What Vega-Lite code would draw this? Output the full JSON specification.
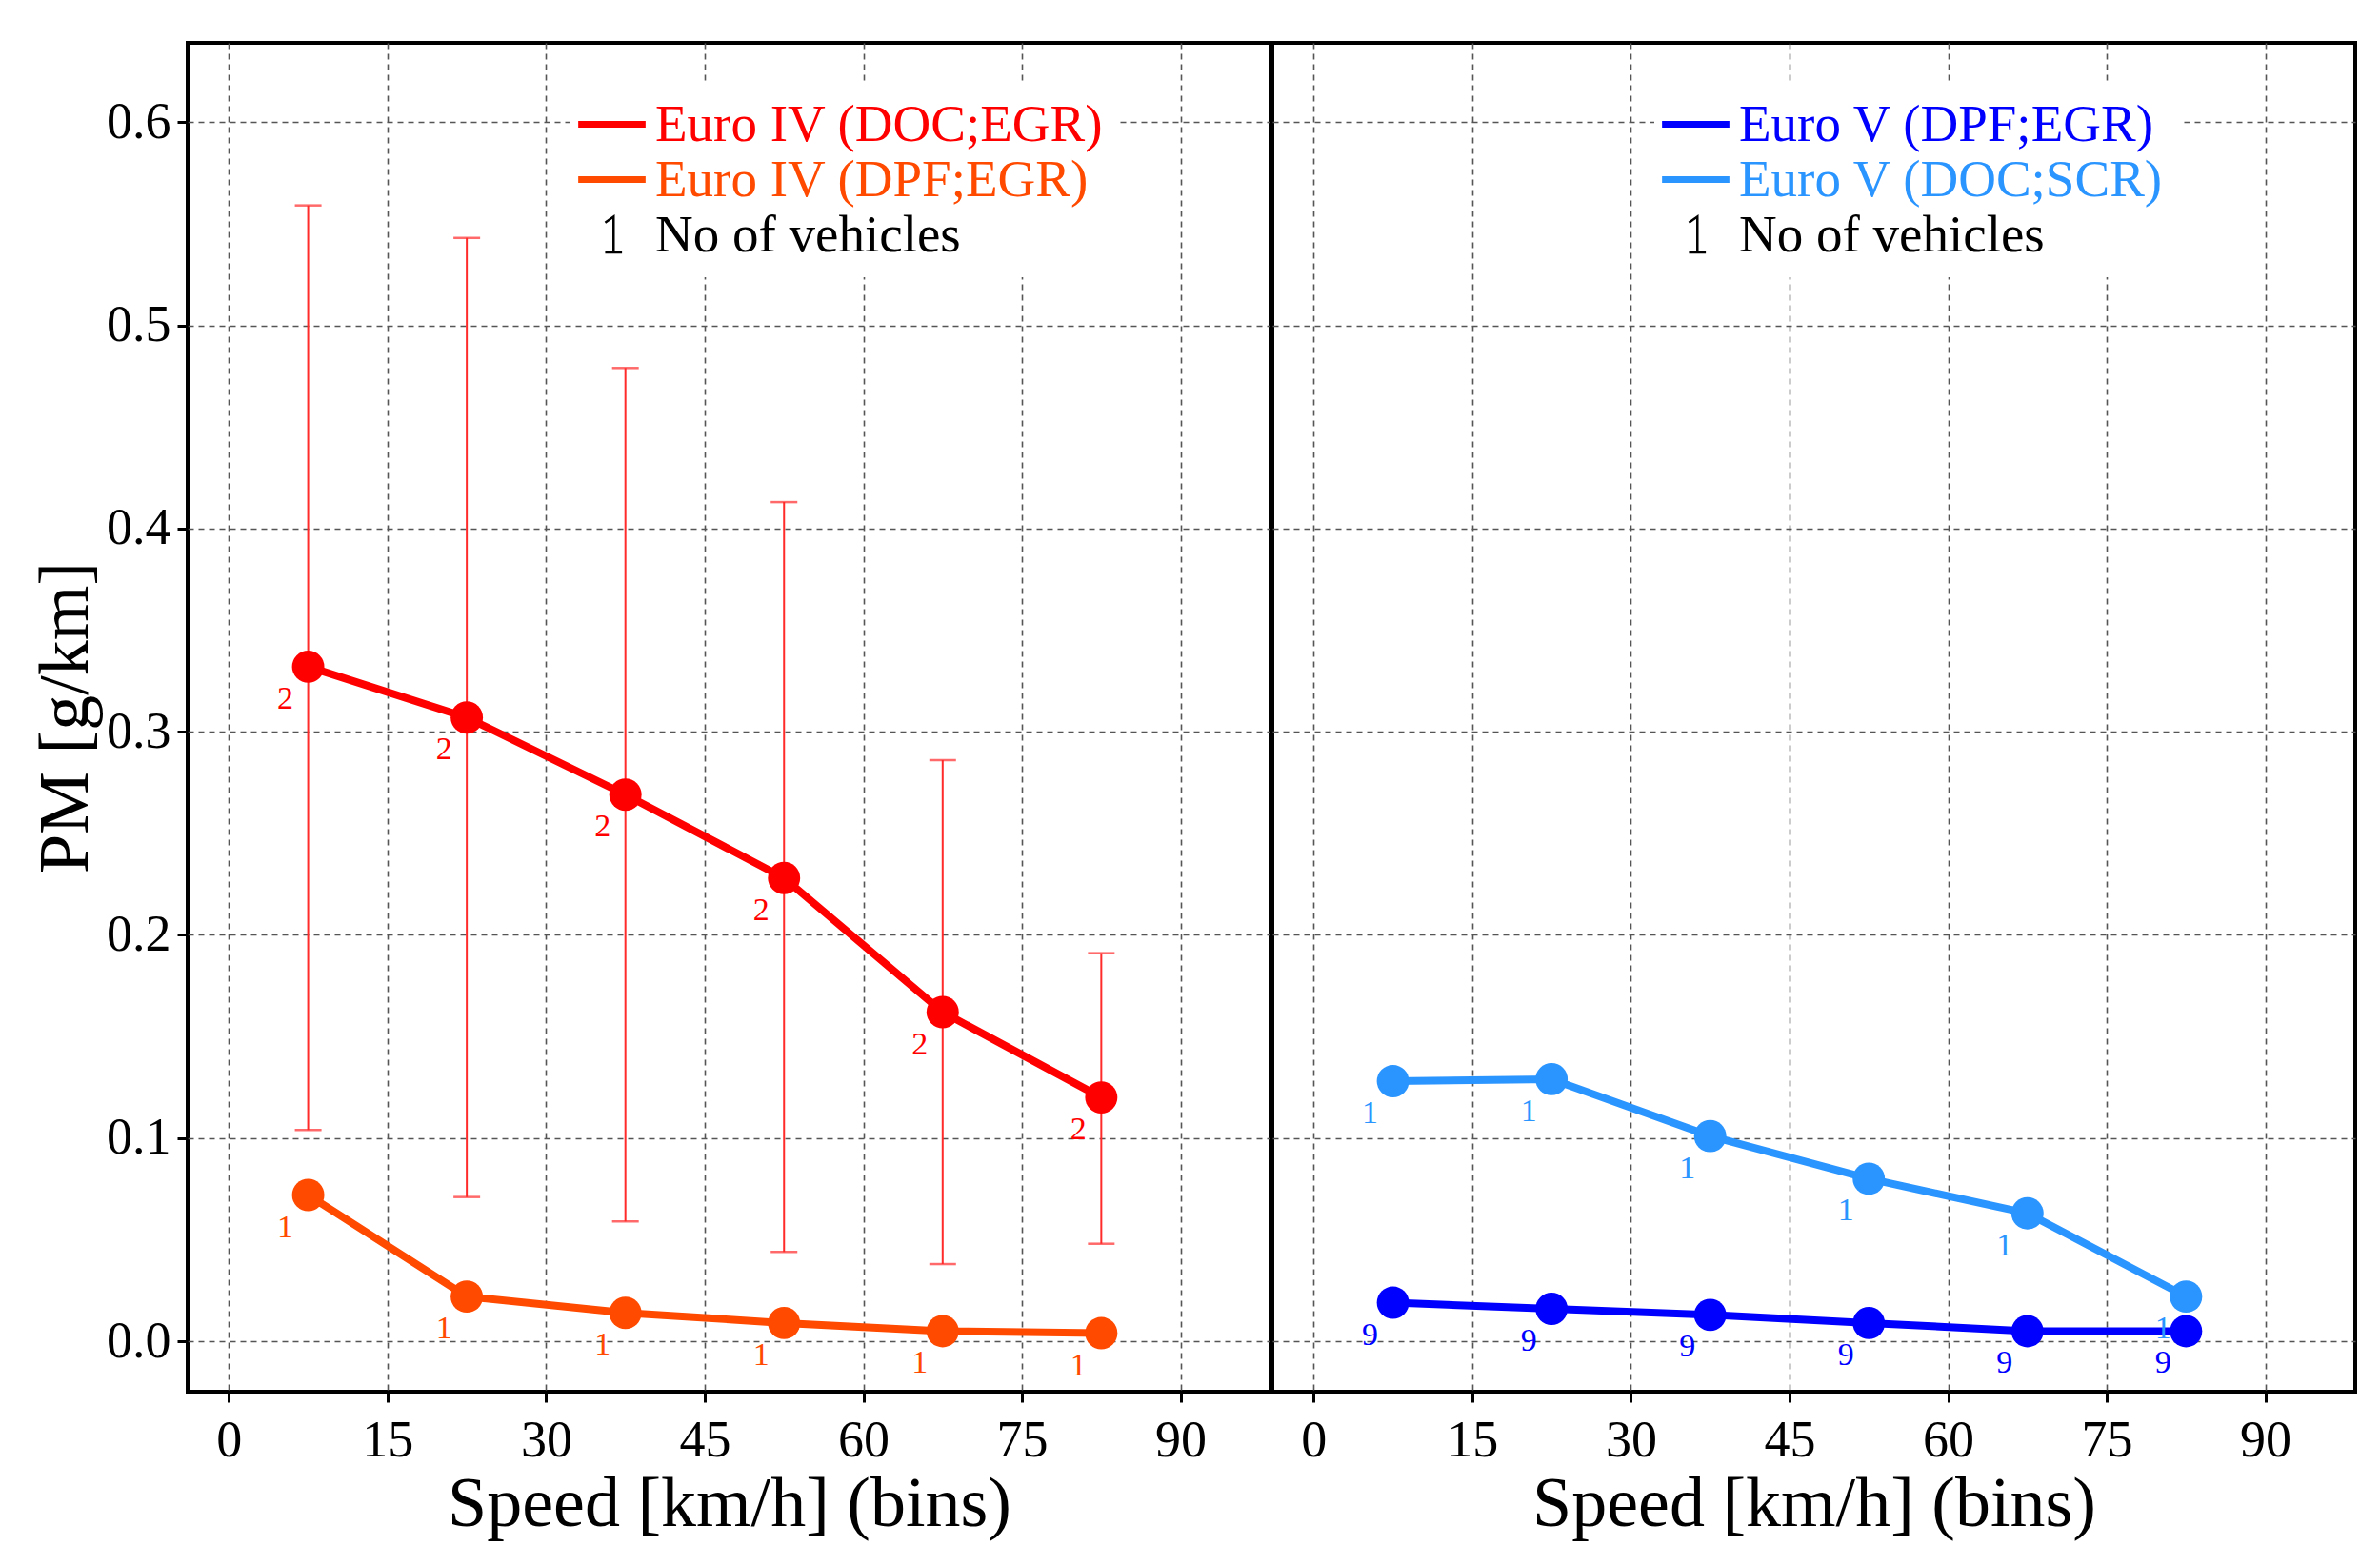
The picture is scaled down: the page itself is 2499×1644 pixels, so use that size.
{
  "$schema": "https://vega.github.io/schema/vega-lite/v6.json",
  "autosize": {"type": "pad"},
  "padding": {"left": 30, "top": 43, "right": 20, "bottom": 5},
  "background": "white",
  "config": {
    "font": "Liberation Serif",
    "view": {"stroke": "black", "strokeWidth": 4},
    "axis": {
      "labelFont": "Liberation Serif",
      "labelFontSize": 54,
      "labelColor": "black",
      "titleFont": "Liberation Serif",
      "titleFontSize": 74,
      "titleFontWeight": "normal",
      "titleColor": "black",
      "domain": false,
      "tickColor": "black",
      "tickWidth": 3,
      "tickSize": 11,
      "gridColor": "#555555",
      "gridDash": [6, 5],
      "gridWidth": 1.6,
      "gridOpacity": 1
    }
  },
  "datasets": {
    "pm": [
      {"stage": "IV", "series": "Euro IV (DOC;EGR)", "speed": 7.5, "pm": 0.332, "lo": 0.104, "hi": 0.559, "n": "2"},
      {"stage": "IV", "series": "Euro IV (DOC;EGR)", "speed": 22.5, "pm": 0.307, "lo": 0.071, "hi": 0.543, "n": "2"},
      {"stage": "IV", "series": "Euro IV (DOC;EGR)", "speed": 37.5, "pm": 0.269, "lo": 0.059, "hi": 0.479, "n": "2"},
      {"stage": "IV", "series": "Euro IV (DOC;EGR)", "speed": 52.5, "pm": 0.228, "lo": 0.044, "hi": 0.413, "n": "2"},
      {"stage": "IV", "series": "Euro IV (DOC;EGR)", "speed": 67.5, "pm": 0.162, "lo": 0.038, "hi": 0.286, "n": "2"},
      {"stage": "IV", "series": "Euro IV (DOC;EGR)", "speed": 82.5, "pm": 0.120, "lo": 0.048, "hi": 0.191, "n": "2"},
      {"stage": "IV", "series": "Euro IV (DPF;EGR)", "speed": 7.5, "pm": 0.072, "n": "1"},
      {"stage": "IV", "series": "Euro IV (DPF;EGR)", "speed": 22.5, "pm": 0.022, "n": "1"},
      {"stage": "IV", "series": "Euro IV (DPF;EGR)", "speed": 37.5, "pm": 0.014, "n": "1"},
      {"stage": "IV", "series": "Euro IV (DPF;EGR)", "speed": 52.5, "pm": 0.009, "n": "1"},
      {"stage": "IV", "series": "Euro IV (DPF;EGR)", "speed": 67.5, "pm": 0.005, "n": "1"},
      {"stage": "IV", "series": "Euro IV (DPF;EGR)", "speed": 82.5, "pm": 0.004, "n": "1"},
      {"stage": "V", "series": "Euro V (DPF;EGR)", "speed": 7.5, "pm": 0.019, "n": "9"},
      {"stage": "V", "series": "Euro V (DPF;EGR)", "speed": 22.5, "pm": 0.016, "n": "9"},
      {"stage": "V", "series": "Euro V (DPF;EGR)", "speed": 37.5, "pm": 0.013, "n": "9"},
      {"stage": "V", "series": "Euro V (DPF;EGR)", "speed": 52.5, "pm": 0.009, "n": "9"},
      {"stage": "V", "series": "Euro V (DPF;EGR)", "speed": 67.5, "pm": 0.005, "n": "9"},
      {"stage": "V", "series": "Euro V (DPF;EGR)", "speed": 82.5, "pm": 0.005, "n": "9"},
      {"stage": "V", "series": "Euro V (DOC;SCR)", "speed": 7.5, "pm": 0.128, "n": "1"},
      {"stage": "V", "series": "Euro V (DOC;SCR)", "speed": 22.5, "pm": 0.129, "n": "1"},
      {"stage": "V", "series": "Euro V (DOC;SCR)", "speed": 37.5, "pm": 0.101, "n": "1"},
      {"stage": "V", "series": "Euro V (DOC;SCR)", "speed": 52.5, "pm": 0.080, "n": "1"},
      {"stage": "V", "series": "Euro V (DOC;SCR)", "speed": 67.5, "pm": 0.063, "n": "1"},
      {"stage": "V", "series": "Euro V (DOC;SCR)", "speed": 82.5, "pm": 0.022, "n": "1"}
    ]
  },
  "spacing": -4,
  "resolve": {"scale": {"color": "independent"}, "legend": {"color": "independent"}},
  "hconcat": [
    {
      "width": 1137,
      "height": 1416,
      "data": {"name": "pm"},
      "transform": [{"filter": "datum.stage === 'IV'"}],
      "encoding": {
        "x": {
          "field": "speed", "type": "quantitative",
          "scale": {"domain": [-3.9, 98.5], "nice": false, "zero": false},
          "axis": {"values": [0, 15, 30, 45, 60, 75, 90], "title": "Speed [km/h] (bins)", "labelPadding": 13, "titlePadding": 4}
        },
        "y": {
          "field": "pm", "type": "quantitative",
          "scale": {"domain": [-0.0248, 0.639], "nice": false, "zero": false},
          "axis": {"values": [0, 0.1, 0.2, 0.3, 0.4, 0.5, 0.6], "format": ".1f", "title": "PM [g/km]", "labelPadding": 7, "titlePadding": 4}
        }
      },
      "layer": [
        {
          "mark": {"type": "errorbar", "color": "#ff2a2a", "thickness": 2, "ticks": {"size": 28, "thickness": 2.5}},
          "transform": [{"filter": "isValid(datum.lo)"}],
          "encoding": {
            "y": {"field": "lo", "type": "quantitative"},
            "y2": {"field": "hi"}
          }
        },
        {
          "mark": {"type": "line", "strokeWidth": 8},
          "encoding": {
            "color": {
              "field": "series", "type": "nominal",
              "scale": {"domain": ["Euro IV (DOC;EGR)", "Euro IV (DPF;EGR)", "No of vehicles"], "range": ["#ff0000", "#ff4a00", "#000000"]},
              "legend": {
                "orient": "none", "legendX": 402, "legendY": 42, "padding": 16,
                "fillColor": "white", "title": null,
                "labelFont": "Liberation Serif", "labelFontSize": 55, "labelLimit": 0,
                "labelOffset": 18, "rowPadding": 2,
                "symbolType": "stroke", "symbolSize": 5000, "symbolStrokeWidth": 7,
                "symbolFillColor": "transparent",
                "encode": {
                  "labels": {"update": {"fill": {"signal": "datum.value === 'Euro IV (DOC;EGR)' ? '#ff0000' : datum.value === 'Euro IV (DPF;EGR)' ? '#ff4a00' : '#000000'"}}},
                  "symbols": {"update": {
                    "shape": {"signal": "datum.value === 'No of vehicles' ? 'M-0.2,-0.36L0.05,-0.54L0.05,0.52M-0.2,0.52L0.3,0.52' : 'stroke'"},
                    "strokeWidth": {"signal": "datum.value === 'No of vehicles' ? 2.5 : 7"},
                    "fill": {"value": "transparent"},
                    "fillOpacity": {"value": 0}
                  }}
                }
              }
            }
          }
        },
        {
          "mark": {"type": "point", "filled": true, "size": 1150, "opacity": 1},
          "encoding": {"color": {"field": "series", "type": "nominal", "legend": null}}
        },
        {
          "mark": {"type": "text", "dx": -24, "dy": 34, "fontSize": 34, "font": "Liberation Serif"},
          "encoding": {
            "text": {"field": "n"},
            "color": {"field": "series", "type": "nominal", "legend": null}
          }
        }
      ]
    },
    {
      "width": 1137,
      "height": 1416,
      "data": {"name": "pm"},
      "transform": [{"filter": "datum.stage === 'V'"}],
      "encoding": {
        "x": {
          "field": "speed", "type": "quantitative",
          "scale": {"domain": [-3.9, 98.5], "nice": false, "zero": false},
          "axis": {"values": [0, 15, 30, 45, 60, 75, 90], "title": "Speed [km/h] (bins)", "labelPadding": 13, "titlePadding": 4}
        },
        "y": {
          "field": "pm", "type": "quantitative",
          "scale": {"domain": [-0.0248, 0.639], "nice": false, "zero": false},
          "axis": {"values": [0, 0.1, 0.2, 0.3, 0.4, 0.5, 0.6], "labels": false, "ticks": false, "title": null}
        }
      },
      "layer": [
        {
          "mark": {"type": "line", "strokeWidth": 8},
          "encoding": {
            "color": {
              "field": "series", "type": "nominal",
              "scale": {"domain": ["Euro V (DPF;EGR)", "Euro V (DOC;SCR)", "No of vehicles"], "range": ["#0000ff", "#2b95ff", "#000000"]},
              "legend": {
                "orient": "none", "legendX": 401, "legendY": 42, "padding": 16,
                "fillColor": "white", "title": null,
                "labelFont": "Liberation Serif", "labelFontSize": 55, "labelLimit": 0,
                "labelOffset": 18, "rowPadding": 2,
                "symbolType": "stroke", "symbolSize": 5000, "symbolStrokeWidth": 7,
                "symbolFillColor": "transparent",
                "encode": {
                  "labels": {"update": {"fill": {"signal": "datum.value === 'Euro V (DPF;EGR)' ? '#0000ff' : datum.value === 'Euro V (DOC;SCR)' ? '#2b95ff' : '#000000'"}}},
                  "symbols": {"update": {
                    "shape": {"signal": "datum.value === 'No of vehicles' ? 'M-0.2,-0.36L0.05,-0.54L0.05,0.52M-0.2,0.52L0.3,0.52' : 'stroke'"},
                    "strokeWidth": {"signal": "datum.value === 'No of vehicles' ? 2.5 : 7"},
                    "fill": {"value": "transparent"},
                    "fillOpacity": {"value": 0}
                  }}
                }
              }
            }
          }
        },
        {
          "mark": {"type": "point", "filled": true, "size": 1150, "opacity": 1},
          "encoding": {"color": {"field": "series", "type": "nominal", "legend": null}}
        },
        {
          "mark": {"type": "text", "dx": -24, "dy": 34, "fontSize": 34, "font": "Liberation Serif"},
          "encoding": {
            "text": {"field": "n"},
            "color": {"field": "series", "type": "nominal", "legend": null}
          }
        }
      ]
    }
  ]
}
